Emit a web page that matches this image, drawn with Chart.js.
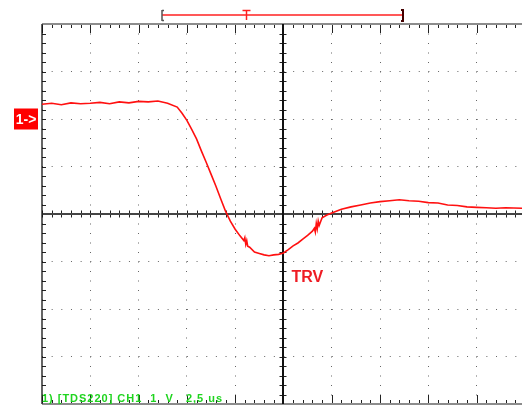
<!DOCTYPE html>
<html lang="en">
<head>
<meta charset="UTF-8">
<title>TRV</title>
<script src="https://cdn.jsdelivr.net/npm/chart.js"></script>
<style>
    html, body { margin: 0; padding: 0; background: #fff; }
    #wrap { width: 522px; height: 406px; }
</style>
</head>
<body>
<div id="wrap"><canvas id="scope" width="522" height="406"></canvas></div>
<script>
// time in us from the left edge of the screen (2.5 us/div), voltage in V from the centre line (1 V/div)
const timeUs = [0, 0.5, 1, 1.5, 2, 2.5, 3, 3.5, 4, 4.5, 5, 5.5, 6, 6.5, 7, 7.25, 7.5, 7.75, 8, 8.25,
    8.5, 8.75, 9, 9.25, 9.5, 9.75, 10, 10.25, 10.45, 10.5, 10.55, 10.6, 10.65, 10.75, 11, 11.25,
    11.5, 11.75, 12, 12.25, 12.5, 12.75, 13, 13.25, 13.5, 13.75, 14, 14.1, 14.15, 14.2, 14.25, 14.3,
    14.35, 14.5, 14.75, 15, 15.5, 16, 16.5, 17, 17.5, 18, 18.5, 19, 19.5, 20, 20.5, 21, 21.5, 22,
    22.5, 23, 23.5, 24, 24.85];
const volts = [2.31, 2.33, 2.30, 2.34, 2.32, 2.33, 2.35, 2.32, 2.36, 2.34, 2.37, 2.36, 2.38, 2.33, 2.25, 2.12, 1.97, 1.78, 1.58, 1.33,
    1.09, 0.84, 0.59, 0.32, 0.06, -0.15, -0.32, -0.46, -0.56, -0.50, -0.64, -0.56, -0.68, -0.70, -0.80, -0.83,
    -0.86, -0.88, -0.86, -0.85, -0.82, -0.75, -0.67, -0.61, -0.53, -0.45, -0.36, -0.30, -0.38, -0.20, -0.31, -0.15,
    -0.24, -0.08, -0.02, 0.02, 0.10, 0.15, 0.19, 0.23, 0.26, 0.28, 0.30, 0.28, 0.27, 0.24, 0.23, 0.19, 0.18, 0.15,
    0.14, 0.13, 0.12, 0.13, 0.12];

const xTicks = [0, 2.5, 5, 7.5, 10, 12.5, 15, 17.5, 20, 22.5];
const yTicks = [-4, -3, -2, -1, 0, 1, 2, 3, 4];
const channelLevel = 2;          // "1->" ground marker
const triggerWindow = [6.23, 18.68];
const triggerPos = 10.55;
const traceLabel = 'TRV';
const traceLabelAt = [12.92, -1.43];
const channelLabel = '1->';
const statusText = '1) [TDS220] CH1  1  V   2,5 us';

function seg(ctx, x1, y1, x2, y2) {
    ctx.beginPath();
    ctx.moveTo(x1, y1);
    ctx.lineTo(x2, y2);
    ctx.stroke();
}

// borders, centre cross and the small division ticks of the scope screen
const graticule = {
    id: 'graticule',
    beforeDatasetsDraw(chart) {
        const { ctx, chartArea: a, scales: { x, y } } = chart;
        const cx = Math.round(x.getPixelForValue(12.5));
        const cy = Math.round(y.getPixelForValue(0));
        const sx = (x.getPixelForValue(2.5) - x.getPixelForValue(0)) / 5;
        const sy = (y.getPixelForValue(0) - y.getPixelForValue(1)) / 5;
        ctx.save();

        ctx.strokeStyle = '#222';
        ctx.lineWidth = 1;
        for (let i = 0; a.left + i * sx <= a.right + 1; i++) {
            const px = Math.round(a.left + i * sx) + 0.5;
            const len = i % 5 === 0 ? 9 : 4;
            seg(ctx, px, a.top, px, a.top + len);
            seg(ctx, px, a.bottom, px, a.bottom - len);
            seg(ctx, px, cy - 3.5, px, cy + 3.5);
        }
        for (let j = 0; j <= 40; j++) {
            const py = Math.round(a.top + j * sy) + 0.5;
            seg(ctx, a.left, py, a.left + 4, py);
            seg(ctx, cx - 3.5, py, cx + 3.5, py);
        }

        ctx.strokeStyle = '#8c8c8c';
        ctx.lineWidth = 2;
        seg(ctx, a.left, a.top, a.right, a.top);
        seg(ctx, a.left, a.bottom, a.right, a.bottom);

        ctx.strokeStyle = '#444';
        ctx.lineWidth = 2;
        seg(ctx, a.left, cy, a.right, cy);
        ctx.strokeStyle = '#111';
        seg(ctx, cx, a.top, cx, a.bottom);
        ctx.lineWidth = 1.3;
        seg(ctx, a.left, a.top, a.left, a.bottom);
        ctx.restore();
    },
    afterDraw(chart) {
        const { ctx, chartArea: a, scales: { x, y } } = chart;
        ctx.save();

        // trigger / record window bar above the screen
        const xl = Math.round(x.getPixelForValue(triggerWindow[0]));
        const xr = Math.round(x.getPixelForValue(triggerWindow[1]));
        const xt = Math.round(x.getPixelForValue(triggerPos)) + 0.5;
        ctx.strokeStyle = '#ff2020';
        ctx.lineWidth = 1.5;
        seg(ctx, xl, 15, xr, 15);
        seg(ctx, xt - 4, 10.5, xt + 4, 10.5);
        seg(ctx, xt, 10, xt, 20);
        ctx.strokeStyle = '#555';
        ctx.lineWidth = 1.5;
        seg(ctx, xl, 10, xl, 21);
        seg(ctx, xl, 10.5, xl + 2, 10.5);
        seg(ctx, xl, 20.5, xl + 2, 20.5);
        ctx.strokeStyle = '#400';
        ctx.lineWidth = 2;
        seg(ctx, xr, 9, xr, 22);
        seg(ctx, xr - 2, 10, xr, 10);
        seg(ctx, xr - 2, 21, xr, 21);

        // channel 1 marker
        const yc = y.getPixelForValue(channelLevel);
        ctx.fillStyle = '#ff0000';
        ctx.fillRect(14, yc - 10.5, 24, 21);
        ctx.fillStyle = '#fff';
        ctx.font = 'bold 14px "Liberation Sans", Arial, sans-serif';
        ctx.textAlign = 'center';
        ctx.textBaseline = 'middle';
        ctx.fillText(channelLabel, 26, yc + 1);

        // TRV label
        ctx.fillStyle = '#ee1c24';
        ctx.font = 'bold 16px "Liberation Sans", Arial, sans-serif';
        ctx.textAlign = 'left';
        ctx.textBaseline = 'alphabetic';
        ctx.fillText(traceLabel, x.getPixelForValue(traceLabelAt[0]), y.getPixelForValue(traceLabelAt[1]));

        // status line, stretched like the scope's pixel font
        ctx.fillStyle = '#1fd41f';
        ctx.font = 'bold 11px "Liberation Sans", Arial, sans-serif';
        const w = ctx.measureText(statusText).width;
        ctx.letterSpacing = Math.max(0, (180 - w) / (statusText.length - 1)).toFixed(2) + 'px';
        ctx.fillText(statusText, a.left, a.bottom - 2);
        ctx.restore();
    }
};

new Chart(document.getElementById('scope'), {
    type: 'line',
    data: {
        datasets: [{
            data: timeUs.map((t, i) => ({ x: t, y: volts[i] })),
            borderColor: '#ff1010',
            borderWidth: 1.6,
            pointRadius: 0,
            tension: 0,
            fill: false
        }]
    },
    options: {
        responsive: false,
        animation: false,
        layout: { padding: { left: 42, top: 24, right: 0, bottom: 2 } },
        plugins: { legend: { display: false }, tooltip: { enabled: false } },
        scales: {
            x: {
                type: 'linear',
                min: 0,
                max: 24.85,
                afterBuildTicks: (s) => { s.ticks = xTicks.map(v => ({ value: v })); },
                ticks: { display: false },
                grid: { color: '#666', lineWidth: 1, drawTicks: false },
                border: { display: false, dash: [1, 8.5] }
            },
            y: {
                min: -4,
                max: 4,
                afterBuildTicks: (s) => { s.ticks = yTicks.map(v => ({ value: v })); },
                ticks: { display: false },
                grid: { color: '#666', lineWidth: 1, drawTicks: false },
                border: { display: false, dash: [1, 8.66] }
            }
        }
    },
    plugins: [graticule]
});
</script>
</body>
</html>
